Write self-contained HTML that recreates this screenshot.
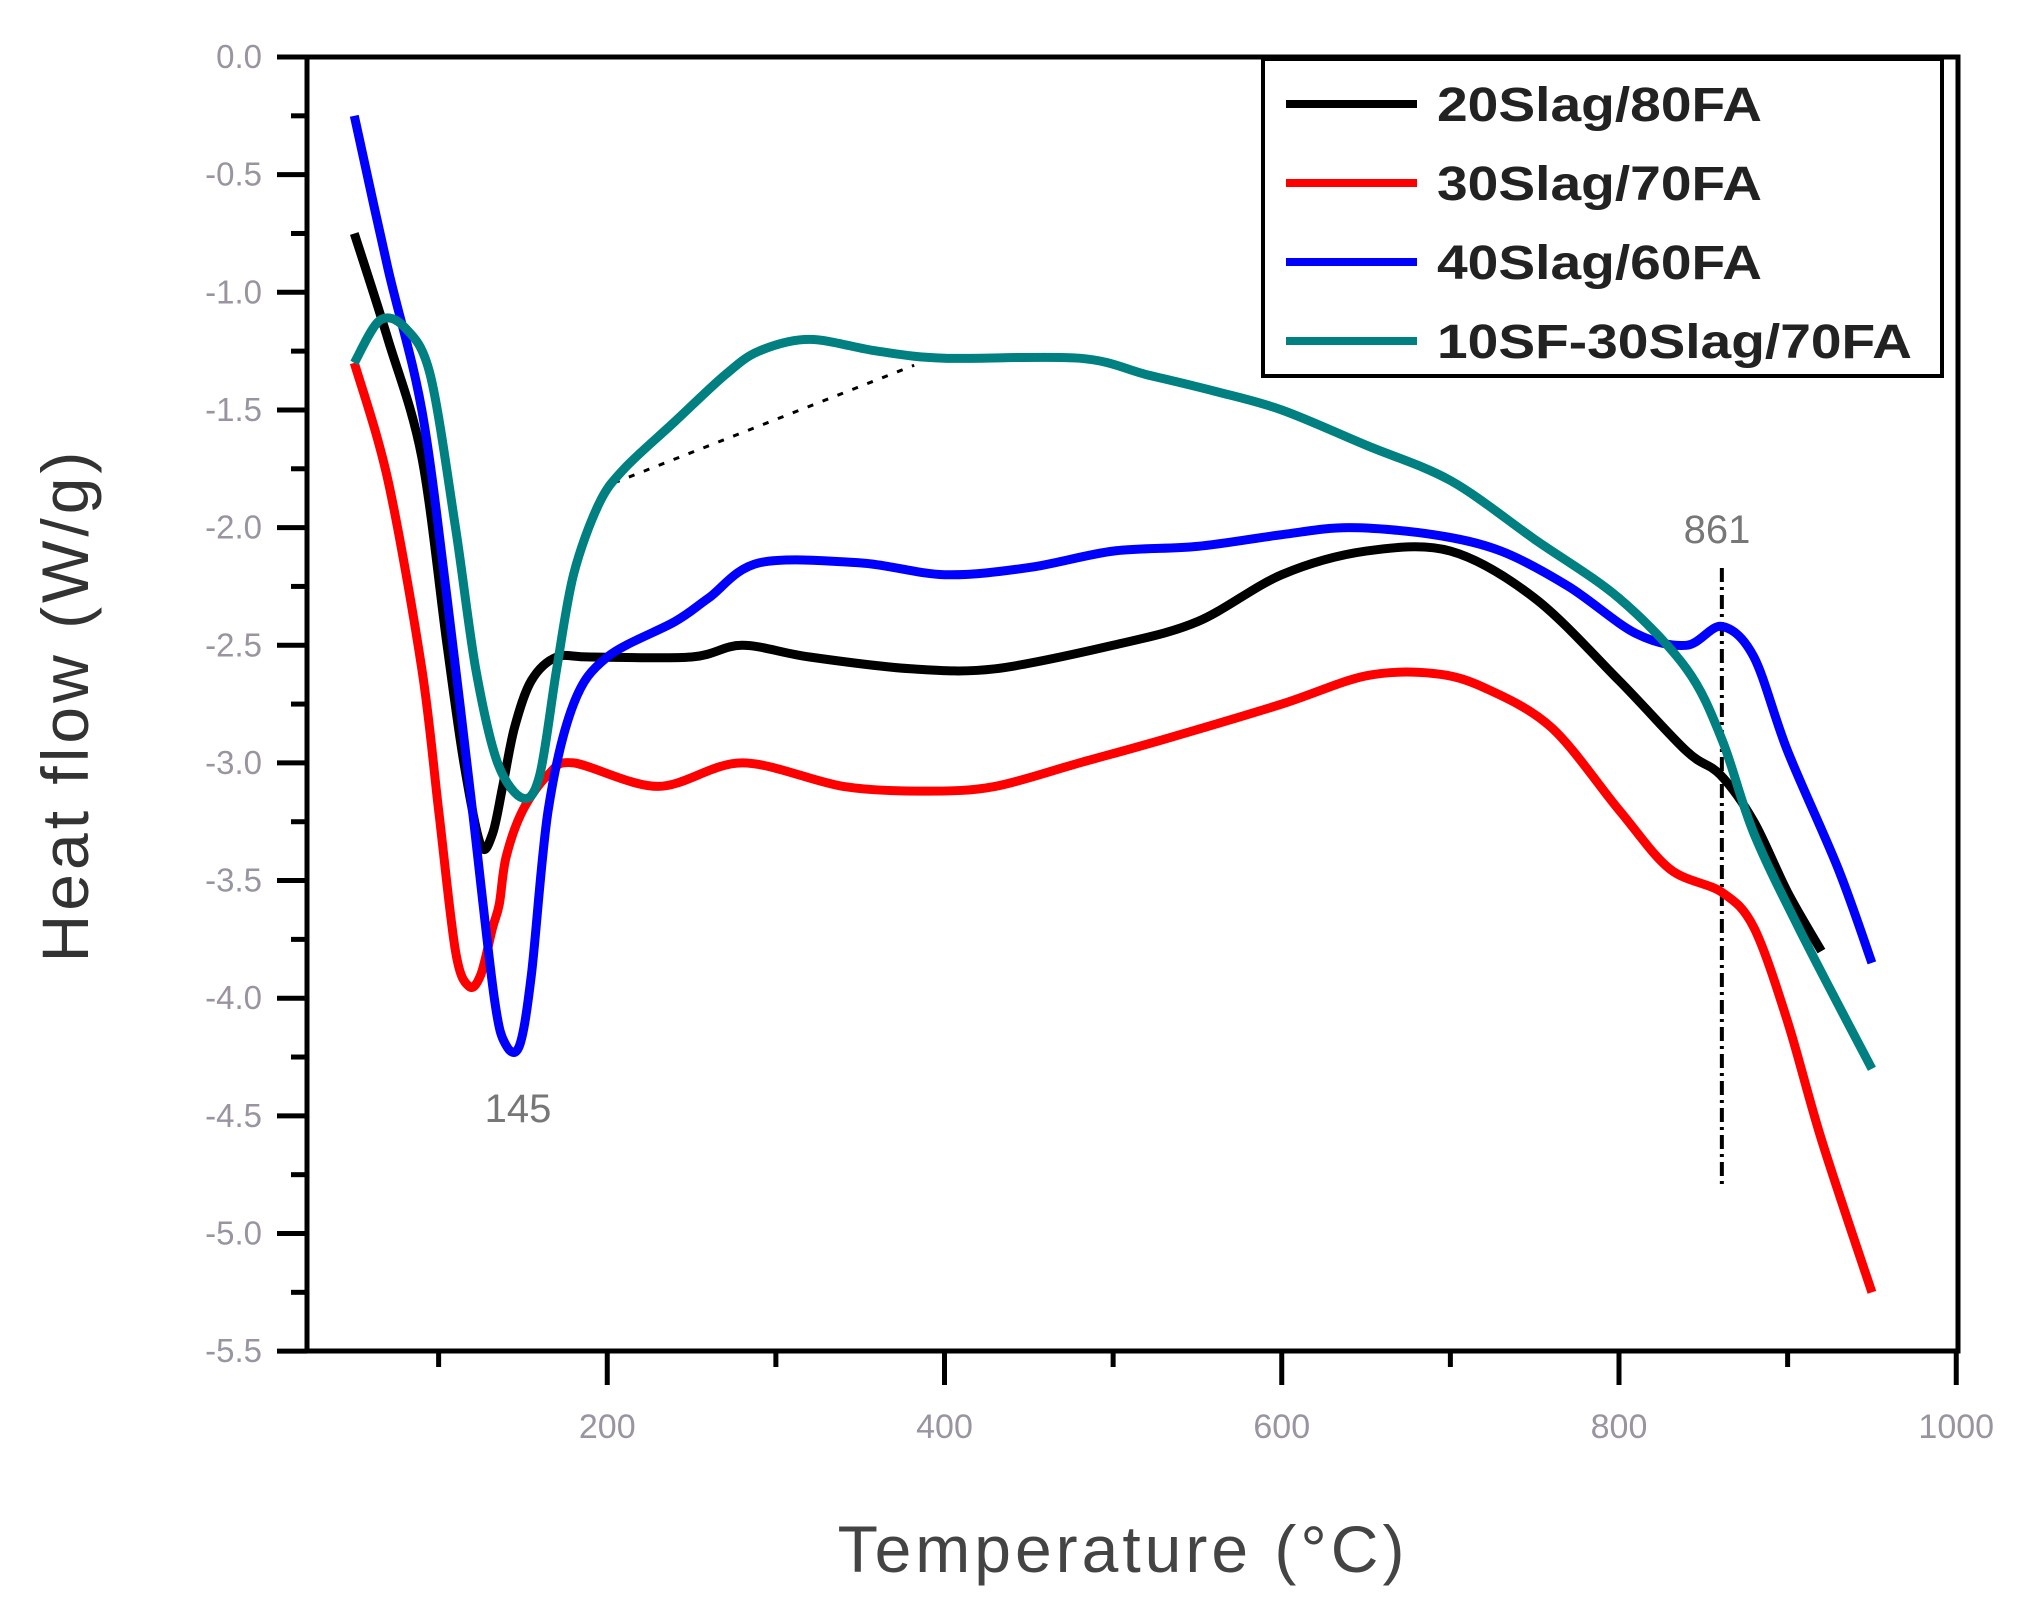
<!DOCTYPE html>
<html><head><meta charset="utf-8"><style>
html,body{margin:0;padding:0;background:#fff;}
svg{display:block;font-family:"Liberation Sans",sans-serif;}
</style></head><body>
<svg id="chart" width="2038" height="1612" viewBox="0 0 2038 1612" xmlns="http://www.w3.org/2000/svg">
<g id="plot"></g>
</svg>
<script>
const xTicks = [200, 400, 600, 800, 1000];
const yTicks = [0, -0.5, -1, -1.5, -2, -2.5, -3, -3.5, -4, -4.5, -5, -5.5];
const yTickLabels = ["0.0","-0.5","-1.0","-1.5","-2.0","-2.5","-3.0","-3.5","-4.0","-4.5","-5.0","-5.5"];
const seriesNames = ["20Slag/80FA","30Slag/70FA","40Slag/60FA","10SF-30Slag/70FA"];
const seriesColors = ["#000000","#ff0000","#0000ff","#008080"];
const blackT = [50,70,90,105,115,125,132,138,145,155,170,190,250,280,320,380,430,500,550,600,650,700,750,800,840,860,880,900,920];
const blackV = [-0.75,-1.2,-1.7,-2.5,-3.0,-3.35,-3.3,-3.1,-2.85,-2.65,-2.55,-2.55,-2.55,-2.5,-2.55,-2.6,-2.6,-2.5,-2.4,-2.2,-2.1,-2.1,-2.3,-2.65,-2.95,-3.05,-3.25,-3.55,-3.8];
const redT = [50,70,90,100,110,118,125,132,136,140,150,165,180,230,280,340,390,430,480,530,600,650,690,720,760,800,830,861,880,900,920,950];
const redV = [-1.3,-1.8,-2.6,-3.2,-3.8,-3.95,-3.9,-3.7,-3.6,-3.4,-3.2,-3.05,-3.0,-3.1,-3.0,-3.1,-3.12,-3.1,-3.0,-2.9,-2.75,-2.63,-2.62,-2.68,-2.85,-3.2,-3.45,-3.55,-3.7,-4.1,-4.6,-5.25];
const blueT = [50,70,90,105,120,133,140,148,155,165,180,200,240,260,290,350,400,450,500,550,600,640,690,730,770,810,840,861,880,900,930,950];
const blueV = [-0.25,-0.9,-1.5,-2.3,-3.2,-4.0,-4.2,-4.2,-3.9,-3.2,-2.75,-2.55,-2.4,-2.3,-2.15,-2.15,-2.2,-2.17,-2.1,-2.08,-2.03,-2.0,-2.03,-2.1,-2.25,-2.45,-2.5,-2.42,-2.55,-2.95,-3.45,-3.85];
const tealT = [50,65,80,95,110,122,135,150,160,170,180,195,210,240,270,290,320,360,400,480,520,560,600,650,700,750,800,840,861,880,910,950];
const tealV = [-1.3,-1.12,-1.15,-1.35,-2.0,-2.6,-3.0,-3.15,-3.05,-2.6,-2.2,-1.9,-1.75,-1.55,-1.35,-1.25,-1.2,-1.25,-1.28,-1.28,-1.35,-1.42,-1.5,-1.65,-1.8,-2.05,-2.3,-2.6,-2.9,-3.3,-3.75,-4.3];
const guideT = [204, 382];
const guideV = [-1.81, -1.31];
const peakLabels = ["145","861"];
const peakT = [145, 861];

const NS = "http://www.w3.org/2000/svg";
const X = t => 270 + (t) * 1.68625;
const Y = v => 57 + (-v) * 235.3;
const L = 307, R = 1958, T = 57, B = 1351;
const g = document.getElementById('plot');
function mk(tag, attrs, parent){ const e=document.createElementNS(NS,tag); for(const k in attrs) e.setAttribute(k,attrs[k]); (parent||g).appendChild(e); return e; }

const frame = mk('rect',{x:L,y:T,width:R-L,height:B-T,fill:'none',stroke:'#000','stroke-width':5});



for(let t=100;t<=1000;t+=100){
  const major = t%200===0;
  const tk = mk('line',{x1:X(t),x2:X(t),y1:B,y2:B+(major?34:16),stroke:'#000','stroke-width':5});
  
  
}
xTicks.forEach(t=>{
  const tx = mk('text',{x:X(t),y:B+87,'text-anchor':'middle','font-size':34,fill:'#9a93a0'});
  tx.textContent = String(t);
  
  
});
yTicks.forEach((v,i)=>{
  const tk = mk('line',{x1:L-30,x2:L,y1:Y(v),y2:Y(v),stroke:'#000','stroke-width':5});
  
  
  if(i<yTicks.length-1){
    const m = mk('line',{x1:L-16,x2:L,y1:Y(v-0.25),y2:Y(v-0.25),stroke:'#000','stroke-width':5});
    
    
  }
  const tx = mk('text',{x:262,y:Y(v)+11,'text-anchor':'end','font-size':33,fill:'#9a93a0'});
  tx.textContent = yTickLabels[i];
  
  
});

const gl = mk('line',{x1:X(guideT[0]),y1:Y(guideV[0]),x2:X(guideT[1]),y2:Y(guideV[1]),stroke:'#000','stroke-width':3,'stroke-dasharray':'6 10'});


const vl = mk('line',{x1:X(peakT[1]),y1:568,x2:X(peakT[1]),y2:1188,stroke:'#000','stroke-width':4,'stroke-dasharray':'14 5 3 5'});



function smoothPath(pts){
  let d = 'M'+pts[0][0].toFixed(1)+','+pts[0][1].toFixed(1);
  for(let i=0;i<pts.length-1;i++){
    const p0=pts[i-1]||pts[i], p1=pts[i], p2=pts[i+1], p3=pts[i+2]||p2;
    const k=0.16;
    const c1=[p1[0]+(p2[0]-p0[0])*k, p1[1]+(p2[1]-p0[1])*k];
    const c2=[p2[0]-(p3[0]-p1[0])*k, p2[1]-(p3[1]-p1[1])*k];
    d+=' C'+c1[0].toFixed(1)+','+c1[1].toFixed(1)+' '+c2[0].toFixed(1)+','+c2[1].toFixed(1)+' '+p2[0].toFixed(1)+','+p2[1].toFixed(1);
  }
  return d;
}
const allT=[blackT,redT,blueT,tealT], allV=[blackV,redV,blueV,tealV];
allT.forEach((ts,s)=>{
  const pts = ts.map((t,i)=>[X(t),Y(allV[s][i])]);
  const p = mk('path',{d:smoothPath(pts),fill:'none',stroke:seriesColors[s],'stroke-width':9,'stroke-linejoin':'round'});
  
  
});

const pl1 = mk('text',{x:518,y:1122,'text-anchor':'middle','font-size':40,fill:'#777'}); pl1.textContent=peakLabels[0];
 
const pl2 = mk('text',{x:1717,y:543,'text-anchor':'middle','font-size':40,fill:'#777'}); pl2.textContent=peakLabels[1];
 

const lg = mk('g',{});


const lb = mk('rect',{x:1263,y:59,width:679,height:317,fill:'#fff',stroke:'#000','stroke-width':4},lg);


seriesNames.forEach((n,i)=>{
  const y = 104 + i*79;
  const ln = mk('line',{x1:1286,x2:1417,y1:y,y2:y,stroke:seriesColors[i],'stroke-width':8},lg);
  
  
  const tx = mk('text',{x:1437,y:y+17,'font-size':48,'font-weight':'bold',fill:'#222',textLength:n.length>12?475:325,lengthAdjust:'spacingAndGlyphs'},lg);
  tx.textContent = n;
  
  
});

const xt = mk('text',{x:1123,y:1572,'text-anchor':'middle','font-size':66,fill:'#444','letter-spacing':4});
xt.textContent='Temperature (°C)';
 
const yt = mk('text',{x:0,y:0,'text-anchor':'middle','font-size':66,fill:'#333','letter-spacing':4,transform:'translate(88,705) rotate(-90)'});
yt.textContent='Heat flow (W/g)';
 
</script>
</body></html>
